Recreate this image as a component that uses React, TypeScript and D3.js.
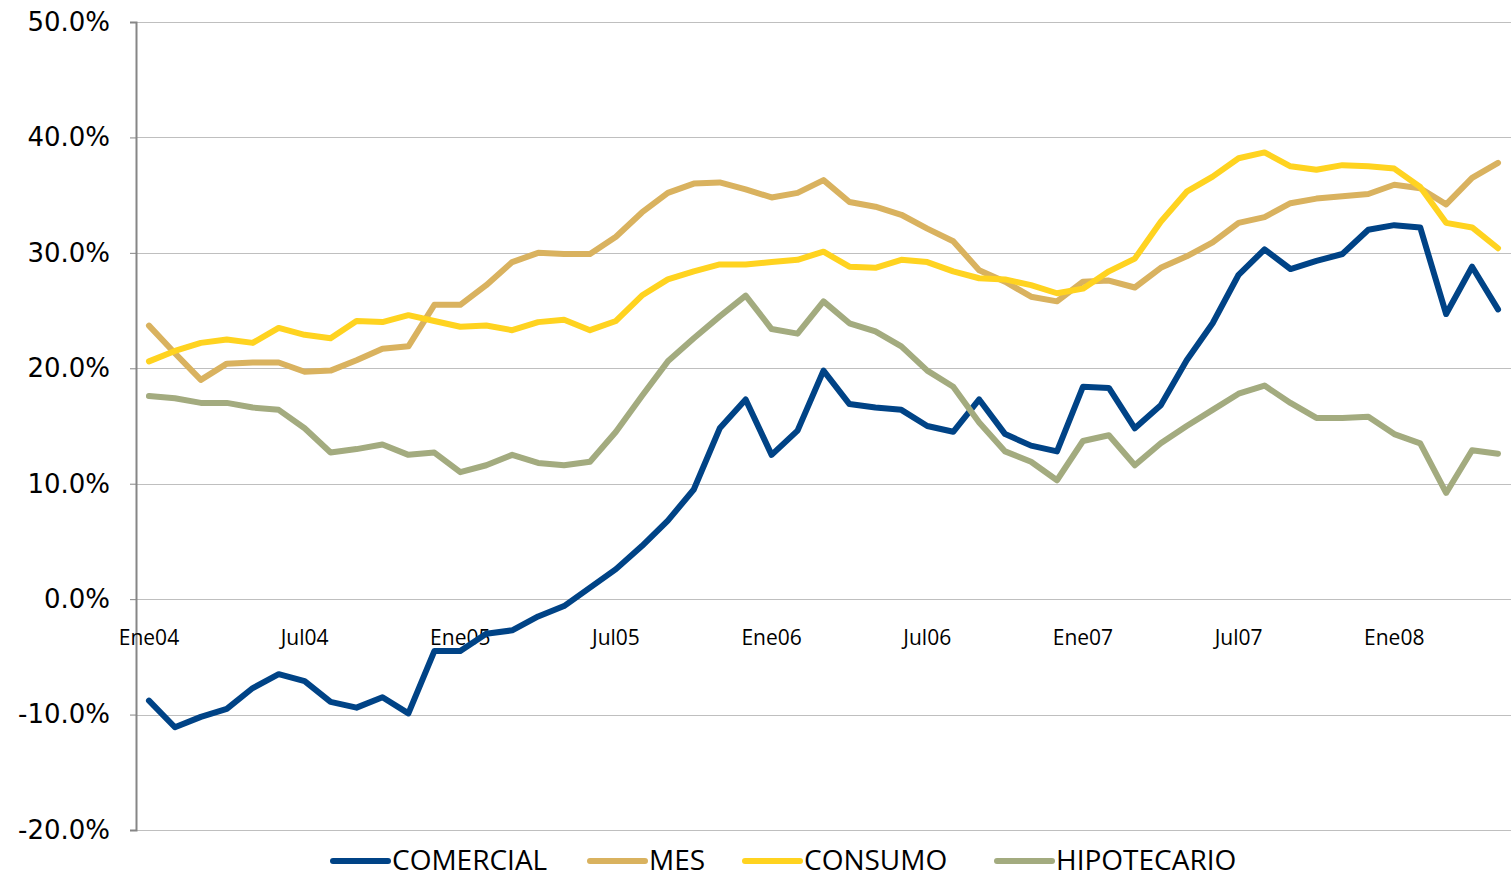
import { useEffect, useRef } from 'react';
import * as d3 from 'd3';

const MONTHS = ['Ene', 'Feb', 'Mar', 'Abr', 'May', 'Jun', 'Jul', 'Ago', 'Sep', 'Oct', 'Nov', 'Dic'];
const YEARS = ['04', '05', '06', '07', '08'];
const categories: string[] = YEARS.flatMap((y) => MONTHS.map((m) => `${m}${y}`)).slice(0, 53);

const comercial = [
  -8.8, -11.1, -10.2, -9.5, -7.7, -6.5, -7.1, -8.9, -9.4, -8.5, -9.9, -4.5, -4.5,
  -3.0, -2.7, -1.5, -0.6, 1.0, 2.6, 4.6, 6.8, 9.5, 14.8, 17.3, 12.5, 14.6, 19.8,
  16.9, 16.6, 16.4, 15.0, 14.5, 17.3, 14.3, 13.3, 12.8, 18.4, 18.3, 14.8, 16.8,
  20.7, 23.9, 28.1, 30.3, 28.6, 29.3, 29.9, 32.0, 32.4, 32.2, 24.7, 28.8, 25.1,
];
const mes = [
  23.7, 21.3, 19.0, 20.4, 20.5, 20.5, 19.7, 19.8, 20.7, 21.7, 21.9, 25.5, 25.5,
  27.2, 29.2, 30.0, 29.9, 29.9, 31.4, 33.5, 35.2, 36.0, 36.1, 35.5, 34.8, 35.2, 36.3,
  34.4, 34.0, 33.3, 32.1, 31.0, 28.5, 27.5, 26.2, 25.8, 27.5, 27.6, 27.0, 28.7,
  29.7, 30.9, 32.6, 33.1, 34.3, 34.7, 34.9, 35.1, 35.9, 35.6, 34.2, 36.5, 37.8,
];
const consumo = [
  20.6, 21.5, 22.2, 22.5, 22.2, 23.5, 22.9, 22.6, 24.1, 24.0, 24.6, 24.1, 23.6,
  23.7, 23.3, 24.0, 24.2, 23.3, 24.1, 26.3, 27.7, 28.4, 29.0, 29.0, 29.2, 29.4, 30.1,
  28.8, 28.7, 29.4, 29.2, 28.4, 27.8, 27.7, 27.2, 26.5, 26.9, 28.4, 29.5, 32.7,
  35.3, 36.6, 38.2, 38.7, 37.5, 37.2, 37.6, 37.5, 37.3, 35.7, 32.6, 32.2, 30.4,
];
const hipotecario = [
  17.6, 17.4, 17.0, 17.0, 16.6, 16.4, 14.8, 12.7, 13.0, 13.4, 12.5, 12.7, 11.0,
  11.6, 12.5, 11.8, 11.6, 11.9, 14.5, 17.6, 20.6, 22.6, 24.5, 26.3, 23.4, 23.0, 25.8,
  23.9, 23.2, 21.9, 19.8, 18.4, 15.3, 12.8, 11.9, 10.3, 13.7, 14.2, 11.6, 13.5,
  15.0, 16.4, 17.8, 18.5, 17.0, 15.7, 15.7, 15.8, 14.3, 13.5, 9.2, 12.9, 12.6,
];

const yTicks = [-20, -10, 0, 10, 20, 30, 40, 50];
const xTickLabels = ['Ene04', 'Jul04', 'Ene05', 'Jul05', 'Ene06', 'Jul06', 'Ene07', 'Jul07', 'Ene08'];

const series = [
  { name: 'COMERCIAL', values: comercial, color: '#004386' },
  { name: 'MES', values: mes, color: '#D9B25F' },
  { name: 'CONSUMO', values: consumo, color: '#FFD320' },
  { name: 'HIPOTECARIO', values: hipotecario, color: '#A3AB7F' },
];

const W = 1511;
const H = 877;

export default function App() {
  const svgRef = useRef<SVGSVGElement>(null);

  useEffect(() => {
    if (!svgRef.current) return;
    const svg = d3.select(svgRef.current);
    svg.selectAll('*').remove();

    const left = 136;
    const right = 1511;
    const top = 22;
    const bottom = 830;

    const x = d3.scalePoint<string>().domain(categories).range([left, right]).padding(0.5);
    const y = d3.scaleLinear().domain([-20, 50]).range([bottom, top]);

    // grid lines
    svg
      .append('g')
      .selectAll('line')
      .data(yTicks)
      .join('line')
      .attr('x1', left)
      .attr('x2', right)
      .attr('y1', (d) => Math.round(y(d)) + 0.5)
      .attr('y2', (d) => Math.round(y(d)) + 0.5)
      .attr('stroke', '#BFBFBF')
      .attr('stroke-width', 1);

    // y axis
    const yAxisG = svg
      .append('g')
      .attr('transform', `translate(${left},0)`)
      .call(
        d3
          .axisLeft(y)
          .tickValues(yTicks)
          .tickSize(6)
          .tickPadding(20)
          .tickFormat((d) => `${(+d).toFixed(1)}%`),
      );
    yAxisG.selectAll('.domain').attr('stroke', '#868686').attr('stroke-width', 2);
    yAxisG.selectAll('.tick line').attr('stroke', '#868686');
    yAxisG
      .selectAll('text')
      .attr('fill', '#000')
      .attr('font-family', '"DejaVu Sans", sans-serif')
      .attr('font-size', '26px');

    // x labels
    svg
      .append('g')
      .selectAll('text')
      .data(xTickLabels)
      .join('text')
      .attr('x', (d) => x(d) ?? 0)
      .attr('y', y(0) + 46)
      .attr('text-anchor', 'middle')
      .attr('font-family', '"Open Sans", sans-serif')
      .attr('font-size', '21px')
      .attr('fill', '#000')
      .text((d) => d);

    // lines
    for (const s of series) {
      const line = d3
        .line<number>()
        .x((_, i) => x(categories[i]) ?? 0)
        .y((d) => y(d));
      svg
        .append('path')
        .datum(s.values)
        .attr('d', line)
        .attr('fill', 'none')
        .attr('stroke', s.color)
        .attr('stroke-width', 6)
        .attr('stroke-linejoin', 'round')
        .attr('stroke-linecap', 'round');
    }

    // legend
    const legendX = [333, 590, 745, 997];
    const legendY = 860;
    series.forEach((s, i) => {
      const lx = legendX[i];
      svg
        .append('line')
        .attr('x1', lx)
        .attr('x2', lx + 55)
        .attr('y1', legendY + 1)
        .attr('y2', legendY + 1)
        .attr('stroke', s.color)
        .attr('stroke-width', 6)
        .attr('stroke-linecap', 'round');
      svg
        .append('text')
        .attr('x', lx + 59)
        .attr('y', legendY + 10)
        .attr('font-family', '"Open Sans", sans-serif')
        .attr('font-size', '28px')
        .attr('fill', '#000')
        .text(s.name);
    });
  }, []);

  return (
    <svg
      ref={svgRef}
      width={W}
      height={H}
      style={{ position: 'absolute', left: 0, top: 0, background: '#fff' }}
    />
  );
}
